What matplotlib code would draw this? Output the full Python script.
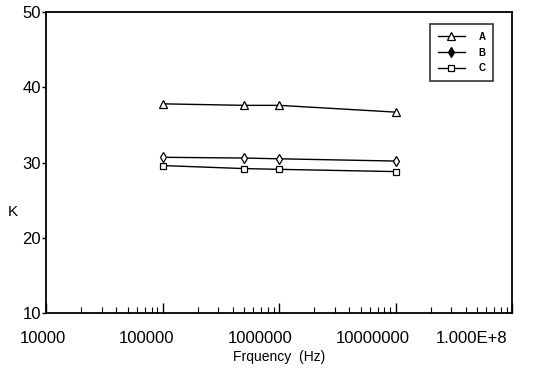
import matplotlib.pyplot as plt
import matplotlib.transforms as mtransforms
from matplotlib.ticker import FixedLocator, LogLocator, NullFormatter

plt.rcParams['font.family'] = ['Liberation Sans', 'DejaVu Sans']

# ------------------------
# Data
# ------------------------
freq = [1e5, 5e5, 1e6, 1e7]
k_a = [37.8, 37.6, 37.6, 36.7]
k_b = [30.7, 30.6, 30.5, 30.2]
k_c = [29.6, 29.2, 29.1, 28.8]

xticks = [1e4, 1e5, 1e6, 1e7, 1e8]
xtick_labels = ["10000", "100000", "1000000", "10000000", "1.000E+8"]
label_shift = [-4, -16, -19, -23, -40]   # px, labels sit a bit left of ticks
yticks = [10, 20, 30, 40, 50]

# ------------------------
# Plot
# ------------------------
fig = plt.figure(figsize=(5.59, 3.75), dpi=100)
ax = fig.add_axes([0.083, 0.165, 0.833, 0.803])

ax.plot(freq, k_a, color='black', lw=1.0, marker='^', ms=5.5, mfc='white',
        mec='black', mew=0.9, label='A')
ax.plot(freq, k_b, color='black', lw=1.0, marker='d', ms=5, mfc='white',
        mec='black', mew=0.9, label='B')
ax.plot(freq, k_c, color='black', lw=1.0, marker='s', ms=4.5, mfc='white',
        mec='black', mew=0.9, label='C')

ax.set_xscale('log')
ax.set_xlim(1e4, 1e8)
ax.set_ylim(10, 50)

ax.xaxis.set_major_locator(FixedLocator(xticks))
ax.set_xticklabels(xtick_labels)
ax.xaxis.set_minor_locator(LogLocator(base=10, subs=range(2, 10)))
ax.xaxis.set_minor_formatter(NullFormatter())
ax.set_yticks(yticks)

ax.tick_params(axis='x', which='major', direction='in', length=7, width=1,
               pad=13, labelsize=12)
ax.tick_params(axis='x', which='minor', direction='in', length=4, width=0.8)
ax.tick_params(axis='y', direction='out', length=3, width=1, pad=1,
               labelsize=12)

for lbl, dx in zip(ax.get_xticklabels(), label_shift):
    off = mtransforms.ScaledTranslation(dx / 100, 0, fig.dpi_scale_trans)
    lbl.set_transform(lbl.get_transform() + off)

for sp in ax.spines.values():
    sp.set_linewidth(1.3)

ax.set_xlabel("Frquency  (Hz)", fontsize=10, labelpad=3)
ax.set_ylabel("K", fontsize=11, rotation=0, va='center', ha='center')
ax.yaxis.set_label_coords(-0.073, 0.335)

leg = ax.legend(loc='upper right', bbox_to_anchor=(0.96, 0.96), fontsize=7,
                frameon=True, fancybox=False, edgecolor='black',
                handlelength=2.8, handletextpad=1.4, borderpad=0.8,
                labelspacing=0.6, borderaxespad=0)
leg.get_frame().set_linewidth(1.2)
for t in leg.get_texts():
    t.set_fontweight('bold')
# legend B marker drawn filled
leg.legend_handles[1].set_markerfacecolor('black')

fig.savefig('out.png', dpi=100)
